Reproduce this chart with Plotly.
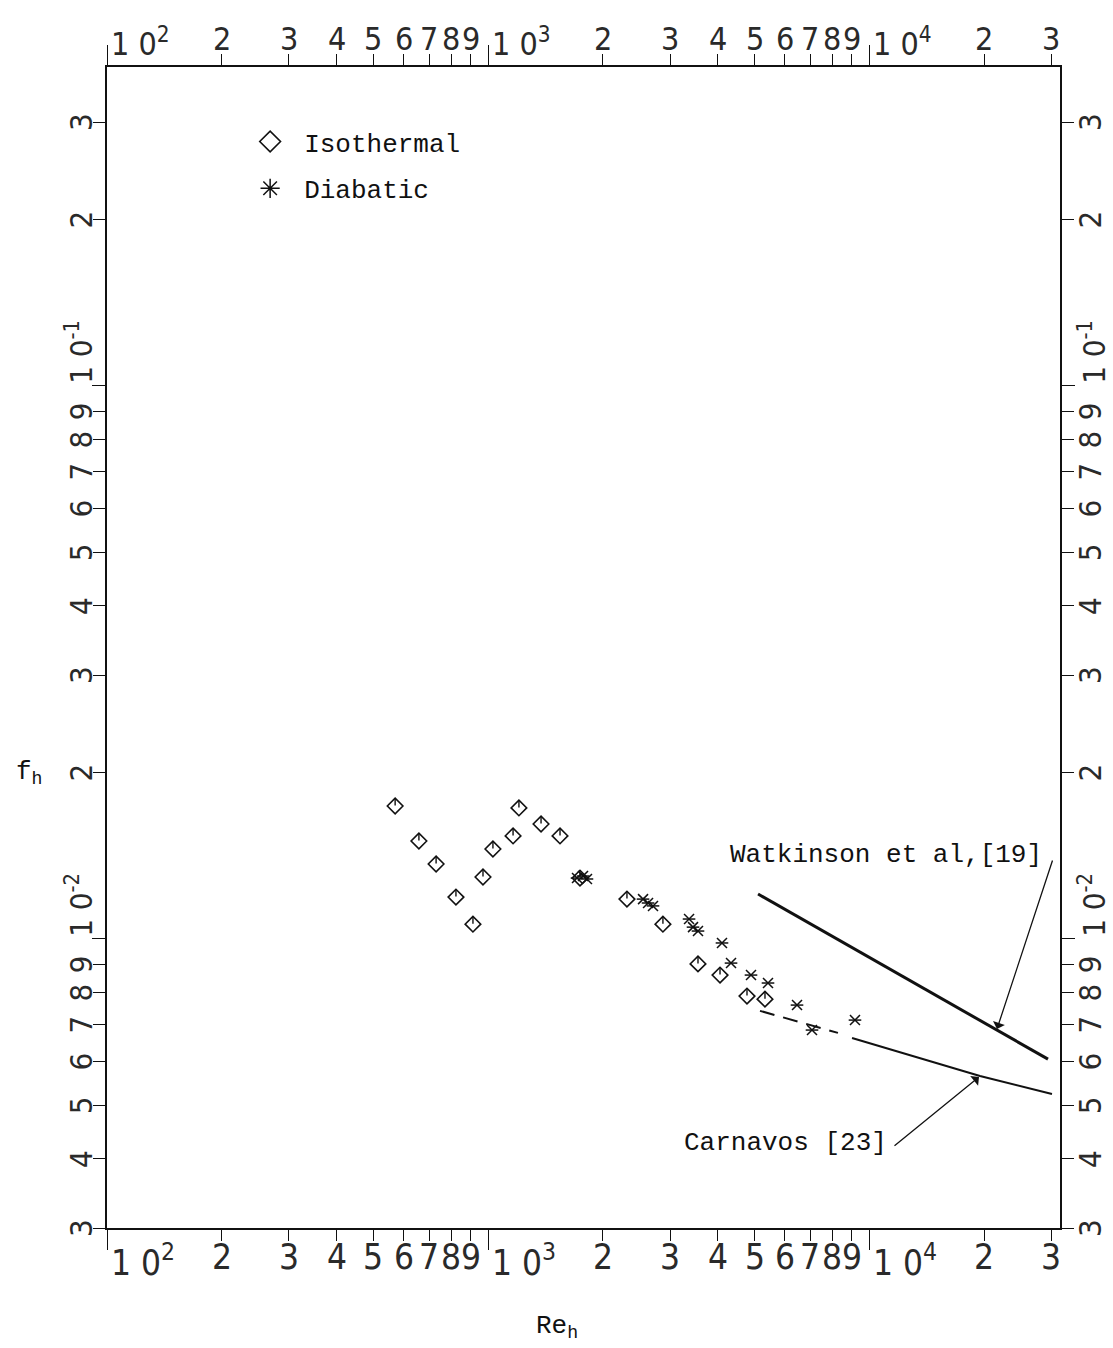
import math
import plotly.graph_objects as go

# ---- measured friction factors -------------------------------------------
iso_re = [570, 658, 730, 823, 912, 969, 1029, 1162, 1204, 1376, 1543, 1741,
          2312, 2873, 3551, 4056, 4774, 5322]
iso_f = [0.01739, 0.01503, 0.01366, 0.01190, 0.01063, 0.01294, 0.01454,
         0.01535, 0.01725, 0.01613, 0.01535, 0.01288, 0.01180, 0.01063,
         0.00901, 0.00860, 0.00788, 0.00778]

dia_re = [1710, 1773, 1816, 2548, 2626, 2706, 3364, 3446, 3551, 4105, 4335,
          4891, 5420, 6458, 7070, 9166]
dia_f = [0.01288, 0.01299, 0.01283, 0.01180, 0.01161, 0.01147, 0.01086,
         0.01050, 0.01033, 0.00983, 0.00904, 0.00860, 0.00832, 0.00759,
         0.00684, 0.00713]

# ---- literature correlations ---------------------------------------------
watk_re = [5104, 29410]
watk_f = [0.01205, 0.00606]

carn_ext_re = [5164, 8270]          # extrapolated (dashed) part
carn_ext_f = [0.00741, 0.00676]
carn_re = [9004, 19505, 30130]
carn_f = [0.00662, 0.00565, 0.00524]

# ---- axis ticks -------------------------------------------------------------
x_major = [100, 1000, 10000]
x_major_labels = ["1 0<sup>2</sup>", "1 0<sup>3</sup>", "1 0<sup>4</sup>"]
x_minor = [200, 300, 400, 500, 600, 700, 800, 900,
           2000, 3000, 4000, 5000, 6000, 7000, 8000, 9000,
           20000, 30000]
x_minor_labels = ["2", "3", "4", "5", "6", "7", "8", "9",
                  "2", "3", "4", "5", "6", "7", "8", "9",
                  "2", "3"]

y_major = [0.01, 0.1]
y_major_labels = ["1 0<sup>-2</sup>", "1 0<sup>-1</sup>"]
y_minor = [0.003, 0.004, 0.005, 0.006, 0.007, 0.008, 0.009,
           0.02, 0.03, 0.04, 0.05, 0.06, 0.07, 0.08, 0.09,
           0.2, 0.3]
y_minor_labels = ["3", "4", "5", "6", "7", "8", "9",
                  "2", "3", "4", "5", "6", "7", "8", "9",
                  "2", "3"]

X_RANGE = [2.0, 4.5]
Y_RANGE = [math.log10(0.003), -0.4234]

TICK_FONT = "Liberation Sans Narrow, DejaVu Sans Condensed, Roboto Condensed, Liberation Sans"
TEXT_FONT = "Liberation Mono, Courier New, DejaVu Sans Mono, monospace"
INK = "#111111"
TICK_INK = "#2a2a2a"

fig = go.Figure()

# Legend-only entries (larger key symbols)
fig.add_trace(go.Scatter(
    x=[None], y=[None], mode="markers", name="Isothermal", legendgroup="iso",
    marker=dict(symbol="diamond-open", size=16, color=INK,
                line=dict(width=1.6, color=INK)),
))
fig.add_trace(go.Scatter(
    x=[None], y=[None], mode="markers", name="Diabatic", legendgroup="dia",
    marker=dict(symbol="asterisk-open", size=16, color=INK,
                line=dict(width=1.5, color=INK)),
))

# Isothermal: open diamond with a short stem from the centre to the top
fig.add_trace(go.Scatter(
    x=iso_re, y=iso_f, mode="markers", name="Isothermal", showlegend=False,
    legendgroup="iso",
    marker=dict(symbol="diamond-open", size=12, color=INK,
                line=dict(width=1.6, color=INK)),
))
fig.add_trace(go.Scatter(
    x=iso_re, y=iso_f, mode="markers", showlegend=False, legendgroup="iso",
    hoverinfo="skip",
    marker=dict(symbol="line-ns-open", size=5, angle=180, standoff=4,
                color=INK, line=dict(width=1.4, color=INK)),
))

# Diabatic: x with a horizontal bar
fig.add_trace(go.Scatter(
    x=dia_re, y=dia_f, mode="markers", name="Diabatic", showlegend=False,
    legendgroup="dia",
    marker=dict(symbol="x-thin-open", size=10, color=INK,
                line=dict(width=1.5, color=INK)),
))
fig.add_trace(go.Scatter(
    x=dia_re, y=dia_f, mode="markers", showlegend=False, legendgroup="dia",
    hoverinfo="skip",
    marker=dict(symbol="line-ew-open", size=9, color=INK,
                line=dict(width=1.5, color=INK)),
))

# Correlations
fig.add_trace(go.Scatter(
    x=watk_re, y=watk_f, mode="lines", showlegend=False, hoverinfo="skip",
    line=dict(color=INK, width=3),
))
fig.add_trace(go.Scatter(
    x=carn_ext_re, y=carn_ext_f, mode="lines", showlegend=False,
    hoverinfo="skip", line=dict(color=INK, width=2, dash="15px,9px"),
))
fig.add_trace(go.Scatter(
    x=carn_re, y=carn_f, mode="lines", showlegend=False, hoverinfo="skip",
    line=dict(color=INK, width=2),
))

annotations = []
x_font = dict(family=TICK_FONT, size=35, color=TICK_INK)
x_font_top = dict(family=TICK_FONT, size=32, color=TICK_INK)
y_font = dict(family=TICK_FONT, size=31, color=TICK_INK)

# bottom and top tick labels
for v, lab in zip(x_major, x_major_labels):
    lx = math.log10(v)
    annotations.append(dict(x=lx, xref="x", y=0, yref="paper", text=lab,
                            xanchor="left", yanchor="top", xshift=2, yshift=-7,
                            showarrow=False, font=x_font))
    annotations.append(dict(x=lx, xref="x", y=1, yref="paper", text=lab,
                            xanchor="left", yanchor="bottom", xshift=2, yshift=2,
                            showarrow=False, font=x_font_top))
for v, lab in zip(x_minor, x_minor_labels):
    lx = math.log10(v)
    annotations.append(dict(x=lx, xref="x", y=0, yref="paper", text=lab,
                            xanchor="center", yanchor="top", yshift=-7,
                            showarrow=False, font=x_font))
    annotations.append(dict(x=lx, xref="x", y=1, yref="paper", text=lab,
                            xanchor="center", yanchor="bottom", yshift=7,
                            showarrow=False, font=x_font_top))

# left and right tick labels (rotated)
for v, lab in zip(y_major, y_major_labels):
    ly = math.log10(v)
    for side in (0, 1):
        annotations.append(dict(x=side, xref="paper", y=ly, yref="y", text=lab,
                                xanchor="right" if side == 0 else "left",
                                yanchor="bottom", textangle=-90,
                                xshift=-6 if side == 0 else 10,
                                showarrow=False, font=y_font))
for v, lab in zip(y_minor, y_minor_labels):
    ly = math.log10(v)
    for side in (0, 1):
        annotations.append(dict(x=side, xref="paper", y=ly, yref="y", text=lab,
                                xanchor="right" if side == 0 else "left",
                                yanchor="middle", textangle=-90,
                                xshift=-6 if side == 0 else 10,
                                showarrow=False, font=y_font))

# axis titles
annotations.append(dict(x=-0.081, xref="paper", y=0.392, yref="paper",
                        text="f<sub>h</sub>", showarrow=False,
                        xanchor="center", yanchor="middle",
                        font=dict(family=TEXT_FONT, size=26, color=INK)))
annotations.append(dict(x=0.472, xref="paper", y=-0.085, yref="paper",
                        text="Re<sub>h</sub>", showarrow=False,
                        xanchor="center", yanchor="middle",
                        font=dict(family=TEXT_FONT, size=26, color=INK)))

# correlation labels with leader arrows
annotations.append(dict(x=0.9832, xref="paper", y=0.3213, yref="paper",
                        text="Watkinson et al,[19]", showarrow=False,
                        xanchor="right", yanchor="middle",
                        font=dict(family=TEXT_FONT, size=26, color=INK)))
annotations.append(dict(x=4.3347, y=-2.1630, xref="x", yref="y",
                        ax=4.4816, ay=-1.8556, axref="x", ayref="y",
                        text="", showarrow=True, arrowhead=1, arrowsize=1.6,
                        arrowwidth=1.3, arrowcolor=INK))
annotations.append(dict(x=0.8206, xref="paper", y=0.0732, yref="paper",
                        text="Carnavos [23]", showarrow=False,
                        xanchor="right", yanchor="middle",
                        font=dict(family=TEXT_FONT, size=26, color=INK)))
annotations.append(dict(x=4.2875, y=-2.2498, xref="x", yref="y",
                        ax=4.0619, ay=-2.3764, axref="x", ayref="y",
                        text="", showarrow=True, arrowhead=1, arrowsize=1.6,
                        arrowwidth=1.3, arrowcolor=INK))

axis_common = dict(
    type="log", showline=True, linecolor=INK, linewidth=1.6, mirror="ticks",
    ticks="outside", tickcolor=INK, tickwidth=1.4, showticklabels=False,
    showgrid=False, zeroline=False,
)

fig.update_layout(
    width=1113, height=1348,
    margin=dict(l=107, r=53, t=67, b=120),
    paper_bgcolor="white", plot_bgcolor="white",
    xaxis=dict(**axis_common, range=X_RANGE, tickvals=x_major, ticklen=20,
               minor=dict(tickvals=x_minor, ticklen=11, tickwidth=1.3,
                          ticks="outside", tickcolor=INK, showgrid=False)),
    yaxis=dict(**axis_common, range=Y_RANGE, tickvals=y_major, ticklen=13,
               minor=dict(tickvals=y_minor, ticklen=12, tickwidth=1.3,
                          ticks="outside", tickcolor=INK, showgrid=False)),
    showlegend=True,
    legend=dict(x=0.1355, y=0.956, xanchor="left", yanchor="top",
                bgcolor="rgba(0,0,0,0)", borderwidth=0,
                font=dict(family=TEXT_FONT, size=26, color=INK),
                traceorder="grouped", tracegroupgap=10, itemwidth=58),
    annotations=annotations,
)

fig.write_html("out.html")
